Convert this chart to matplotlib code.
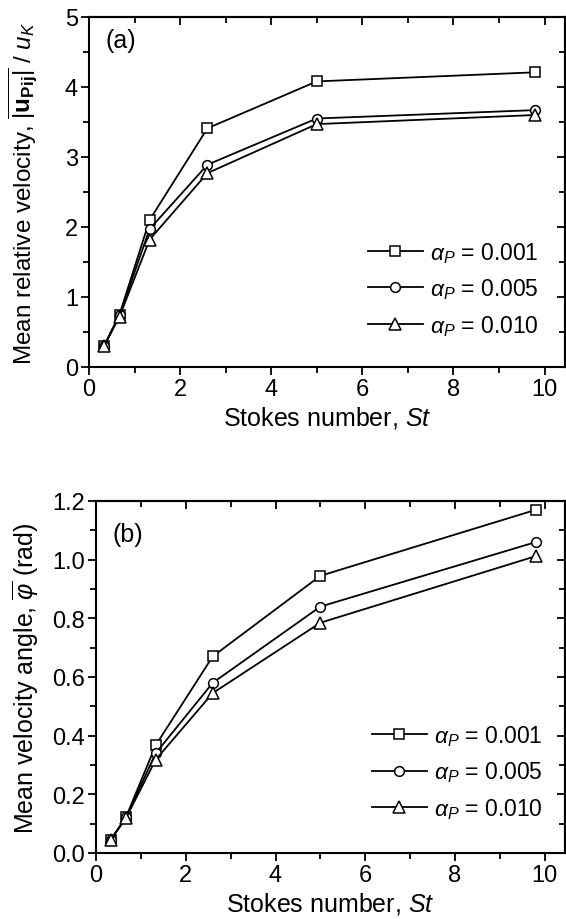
import matplotlib
matplotlib.use("Agg")
import matplotlib.pyplot as plt
from matplotlib.ticker import MultipleLocator, FormatStrFormatter

plt.rcParams['font.family'] = ['Liberation Sans', 'DejaVu Sans']
plt.rcParams['mathtext.fontset'] = 'custom'
plt.rcParams['mathtext.rm'] = 'Liberation Sans'
plt.rcParams['mathtext.it'] = 'Liberation Sans:italic'
plt.rcParams['mathtext.bf'] = 'Liberation Sans:bold'

# ---- data ----
stokes = [0.33, 0.67, 1.33, 2.6, 5.0, 9.8]
labels = [r'$\alpha_P$ = 0.001', r'$\alpha_P$ = 0.005', r'$\alpha_P$ = 0.010']
markers = ['s', 'o', '^']

vel_001 = [0.30, 0.75, 2.10, 3.41, 4.08, 4.21]
vel_005 = [0.30, 0.74, 1.97, 2.89, 3.55, 3.67]
vel_010 = [0.30, 0.72, 1.82, 2.77, 3.47, 3.60]

ang_001 = [0.045, 0.123, 0.367, 0.670, 0.945, 1.170]
ang_005 = [0.045, 0.122, 0.340, 0.580, 0.840, 1.060]
ang_010 = [0.045, 0.120, 0.318, 0.545, 0.785, 1.012]

W, H = 566, 920
fig = plt.figure(figsize=(W / 100, H / 100), dpi=100)

def frac(l, t, r, b):
    return [l / W, 1 - b / H, (r - l) / W, (b - t) / H]

ax1 = fig.add_axes(frac(89, 18, 565, 368))
ax2 = fig.add_axes(frac(96, 502, 565, 854))

msizes = {'s': 6.5, 'o': 7, '^': 8}
TICK = 17

def style(ax, ymax, ymaj, ymin, fmt):
    ax.set_xlim(0, 10.45)
    ax.set_ylim(0, ymax)
    ax.xaxis.set_major_locator(MultipleLocator(2))
    ax.xaxis.set_minor_locator(MultipleLocator(1))
    ax.yaxis.set_major_locator(MultipleLocator(ymaj))
    ax.yaxis.set_minor_locator(MultipleLocator(ymin))
    if fmt:
        ax.yaxis.set_major_formatter(fmt)
    ax.tick_params(which='both', direction='out', width=1.3, labelsize=TICK,
                   top=False, right=False, pad=2)
    ax.tick_params(which='major', length=6)
    ax.tick_params(which='minor', length=4)
    for s in ax.spines.values():
        s.set_linewidth(1.5)
    sx = ax.secondary_xaxis('top')
    sx.xaxis.set_major_locator(MultipleLocator(2))
    sx.xaxis.set_minor_locator(MultipleLocator(1))
    sx.tick_params(which='both', direction='in', width=1.3, labeltop=False)
    sx.tick_params(which='major', length=6)
    sx.tick_params(which='minor', length=4)
    sx.spines['top'].set_linewidth(1.5)
    sy = ax.secondary_yaxis('right')
    sy.yaxis.set_major_locator(MultipleLocator(ymaj))
    sy.yaxis.set_minor_locator(MultipleLocator(ymin))
    sy.tick_params(which='both', direction='in', width=1.3, labelright=False)
    sy.tick_params(which='major', length=6)
    sy.tick_params(which='minor', length=4)
    sy.spines['right'].set_linewidth(1.5)
    ax.set_xlabel(r'Stokes number, $St$', fontsize=18, labelpad=3)

for ys, lab, m in zip([vel_001, vel_005, vel_010], labels, markers):
    ax1.plot(stokes, ys, marker=m, color='black', lw=1.3, ms=msizes[m],
             mfc='white', mec='black', mew=1.1, label=lab)
for ys, lab, m in zip([ang_001, ang_005, ang_010], labels, markers):
    ax2.plot(stokes, ys, marker=m, color='black', lw=1.3, ms=msizes[m],
             mfc='white', mec='black', mew=1.1, label=lab)

style(ax1, 5, 1, 0.5, None)
style(ax2, 1.2, 0.2, 0.1, FormatStrFormatter('%.1f'))

ax1.set_ylabel(r'Mean relative velocity, $\overline{|\mathbf{u}_{\mathbf{Pij}}|}$ / $u_K$',
               fontsize=17.5)
ax1.yaxis.set_label_coords(-0.105, 0.5)
ax2.set_ylabel(r'Mean velocity angle, $\overline{\varphi}$ (rad)', fontsize=18)
ax2.yaxis.set_label_coords(-0.118, 0.5)

ax1.text(0.035, 0.935, '(a)', transform=ax1.transAxes, fontsize=18,
         ha='left', va='center')
ax2.text(0.035, 0.905, '(b)', transform=ax2.transAxes, fontsize=18,
         ha='left', va='center')

for ax, anchor in [(ax1, (0.586, 0.223)), (ax2, (0.588, 0.23))]:
    ax.legend(loc='center left', bbox_to_anchor=anchor, frameon=False,
              fontsize=16.5, handlelength=2.4, handletextpad=0.3,
              labelspacing=0.5, borderpad=0, borderaxespad=0)

fig.savefig('out.png', dpi=100)
